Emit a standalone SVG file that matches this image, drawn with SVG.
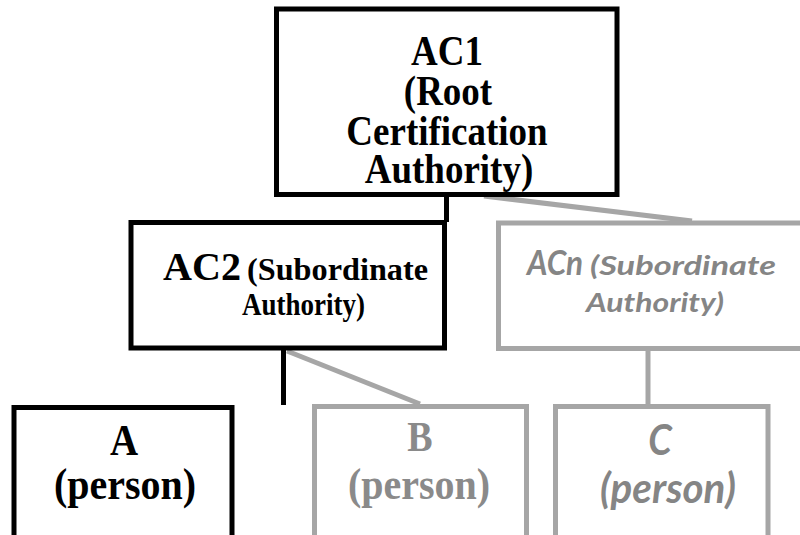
<svg xmlns="http://www.w3.org/2000/svg" width="800" height="535" viewBox="0 0 800 535">
<style>
.bk{fill:#fff;stroke:#000;stroke-width:5}
.gr{fill:#fff;stroke:#a6a6a6;stroke-width:5}
.cb{stroke:#000;stroke-width:5;fill:none}
.cg{stroke:#a6a6a6;stroke-width:5;fill:none}
.tm{font-family:"Liberation Serif","Times New Roman",serif;font-weight:bold;fill:#000}
.tg{font-family:"Liberation Serif","Times New Roman",serif;font-weight:bold;fill:#8a8a8a}
.sg{font-family:Lato,"Open Sans",sans-serif;font-weight:bold;font-style:italic;fill:#858585}
</style>
<rect width="800" height="535" fill="#fff"/>
<g id="connectors">
<line class="cb" x1="446.5" y1="196" x2="446.5" y2="222"/>
<line class="cg" x1="484" y1="196" x2="692" y2="221"/>
<line class="cb" x1="283.5" y1="350" x2="283.5" y2="405"/>
<line class="cg" x1="287" y1="351" x2="420" y2="404"/>
<line class="cg" x1="648" y1="351" x2="648" y2="404"/>
</g>
<g id="ac1">
<rect class="bk" x="276.5" y="9" width="340.5" height="185.5"/>
<text class="tm" font-size="37" text-anchor="middle" transform="translate(447,65) scale(1,1.15)">AC1</text>
<text class="tm" font-size="37" text-anchor="middle" transform="translate(448,105) scale(1,1.15)">(Root</text>
<text class="tm" font-size="37" text-anchor="middle" transform="translate(447,145) scale(1,1.15)">Certification</text>
<text class="tm" font-size="37" text-anchor="middle" transform="translate(449,183) scale(1,1.15)">Authority)</text>
</g>
<g id="ac2">
<rect class="bk" x="131" y="222.5" width="313.5" height="125.5"/>
<text class="tm" font-size="36" transform="translate(163,280) scale(1,1.12)" textLength="78" lengthAdjust="spacingAndGlyphs">AC2</text>
<text class="tm" font-size="28" transform="translate(247,280) scale(1,1.15)" textLength="181" lengthAdjust="spacingAndGlyphs">(Subordinate</text>
<text class="tm" font-size="28" transform="translate(242,315) scale(1,1.15)" textLength="123" lengthAdjust="spacingAndGlyphs">Authority)</text>
</g>
<g id="acn">
<rect class="gr" x="498.5" y="223" width="320" height="125.5"/>
<text class="sg" font-size="31" transform="translate(527,275) scale(1,1.08)" textLength="56" lengthAdjust="spacingAndGlyphs">ACn</text>
<text class="sg" font-size="25" transform="translate(590,275) scale(1,1.08)" textLength="186" lengthAdjust="spacingAndGlyphs">(Subordinate</text>
<text class="sg" font-size="25" transform="translate(586,312) scale(1,1.08)" textLength="138" lengthAdjust="spacingAndGlyphs">Authority)</text>
</g>
<g id="a">
<rect class="bk" x="14" y="407.5" width="218" height="140"/>
<text class="tm" font-size="39" text-anchor="middle" transform="translate(124,455) scale(1,1.12)">A</text>
<text class="tm" font-size="40" text-anchor="middle" transform="translate(125,499) scale(1,1.12)">(person)</text>
</g>
<g id="b">
<rect class="gr" x="314.5" y="406.5" width="212" height="140"/>
<text class="tg" font-size="38" text-anchor="middle" transform="translate(420,451) scale(1,1.12)">B</text>
<text class="tg" font-size="40" text-anchor="middle" transform="translate(419,499) scale(1,1.12)">(person)</text>
</g>
<g id="c">
<rect class="gr" x="555.5" y="406.5" width="212.5" height="140"/>
<text class="sg" font-size="38" text-anchor="middle" transform="translate(660,455) scale(1,1.08)">C</text>
<text class="sg" font-size="38" transform="translate(600,503) scale(1,1.08)" textLength="136" lengthAdjust="spacingAndGlyphs">(person)</text>
</g>
</svg>
